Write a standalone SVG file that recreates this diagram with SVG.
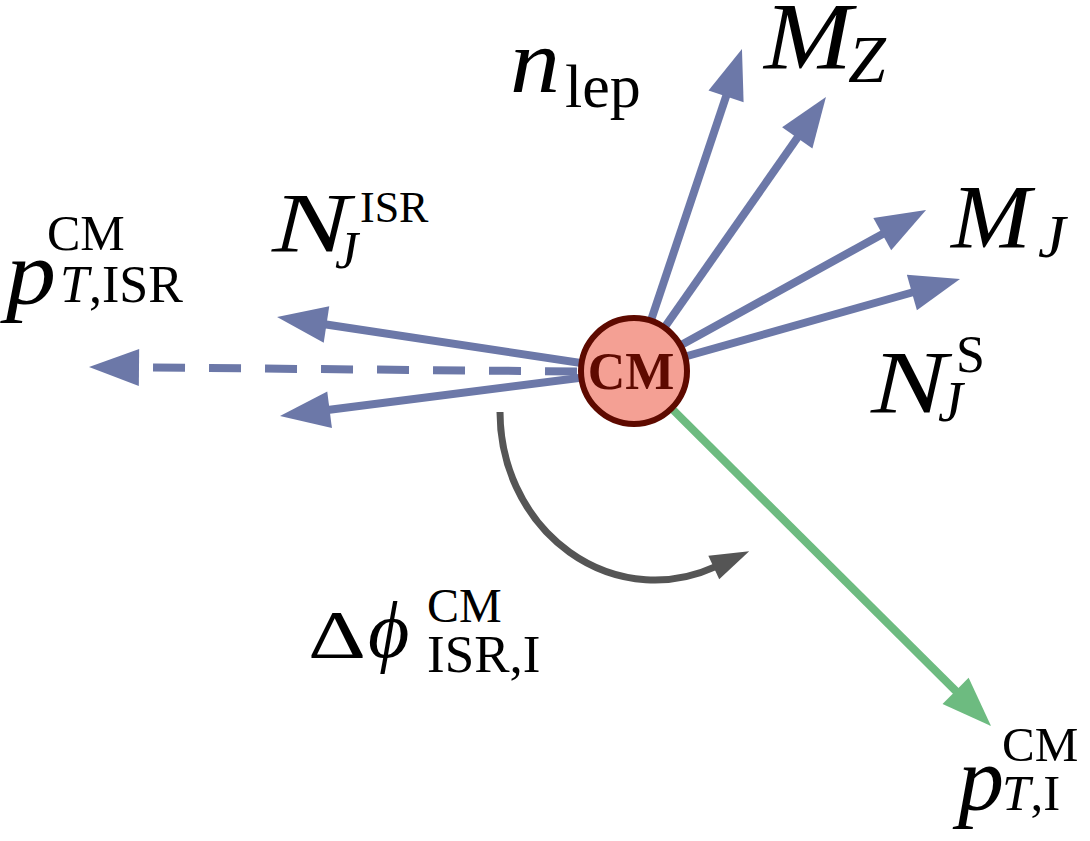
<svg xmlns="http://www.w3.org/2000/svg" width="1090" height="841" viewBox="0 0 1090 841">
<style>
.mi{font-family:"Liberation Serif","DejaVu Serif",serif;font-style:italic;fill:#000}
.rm{font-family:"Liberation Serif","DejaVu Serif",serif;font-style:normal;fill:#000}
.blue{stroke:#6c78a8;stroke-width:8;fill:none;marker-end:url(#hb)}
.green{stroke:#6dbb80;stroke-width:8;fill:none;marker-end:url(#hg)}
.gray{stroke:#555555;stroke-width:7;fill:none;marker-end:url(#hk)}
</style>
<defs>
<marker id="hb" markerUnits="userSpaceOnUse" markerWidth="50" markerHeight="37" refX="2" refY="18.5" orient="auto" overflow="visible"><path d="M0,0 L50,18.5 L0,37 z" fill="#6c78a8"/></marker>
<marker id="hg" markerUnits="userSpaceOnUse" markerWidth="50" markerHeight="37" refX="2" refY="18.5" orient="auto" overflow="visible"><path d="M0,0 L50,18.5 L0,37 z" fill="#6dbb80"/></marker>
<marker id="hk" markerUnits="userSpaceOnUse" markerWidth="39" markerHeight="26" refX="2" refY="13" orient="auto" overflow="visible"><path d="M0,0 L39,13 L0,26 z" fill="#555555"/></marker>
</defs>
<rect width="1090" height="841" fill="#ffffff"/>
<g id="connectors">
<path class="blue" d="M634 371 L726.7 94.5"/>
<path class="blue" d="M634 371 L798.4 136.3"/>
<path class="blue" d="M634 371 L884 233.2"/>
<path class="blue" d="M634 371 L913.8 292"/>
<path class="blue" d="M634 371 L324.5 324.2"/>
<path class="blue" d="M634 372 L137 367.4" stroke-dasharray="32 24" stroke-dashoffset="55"/>
<path class="blue" d="M634 371 L327.6 410"/>
<path class="green" d="M634 371 L957 692.2"/>
<path class="gray" d="M500 412 A155 168 0 0 0 715.6 566.6"/>
</g>
<g id="node-cm">
<circle cx="634" cy="371" r="53" fill="#f4a094" stroke="#5e0a00" stroke-width="6"/>
<text x="631" y="389" text-anchor="middle" font-family="Liberation Serif, serif" font-weight="bold" font-size="52" fill="#5e0a00">CM</text>
</g>
<g id="label-nlep">
<text class="mi" x="510" y="92" font-size="92" textLength="50" lengthAdjust="spacingAndGlyphs">n</text>
<text class="rm" x="565" y="107" font-size="62">lep</text>
</g>
<g id="label-MZ">
<text class="mi" x="764" y="69" font-size="96" textLength="88" lengthAdjust="spacingAndGlyphs">M</text>
<text class="mi" x="848" y="82" font-size="68">Z</text>
</g>
<g id="label-MJ">
<text class="mi" x="951" y="248" font-size="90" textLength="80" lengthAdjust="spacingAndGlyphs">M</text>
<text class="mi" x="1038" y="257" font-size="62">J</text>
</g>
<g id="label-NJS">
<text class="mi" x="871" y="412" font-size="88" textLength="76" lengthAdjust="spacingAndGlyphs">N</text>
<text class="rm" x="956" y="372" font-size="52">S</text>
<text class="mi" x="938" y="421" font-size="56">J</text>
</g>
<g id="label-NJISR">
<text class="mi" x="272" y="252" font-size="84" textLength="78" lengthAdjust="spacingAndGlyphs">N</text>
<text class="rm" x="360" y="222" font-size="44">ISR</text>
<text class="mi" x="335" y="268" font-size="52">J</text>
</g>
<g id="label-pTISR">
<text class="mi" x="6" y="304" font-size="90" textLength="50" lengthAdjust="spacingAndGlyphs">p</text>
<text class="rm" x="47" y="250" font-size="50">CM</text>
<text class="rm" x="60" y="302" font-size="52"><tspan class="mi">T</tspan>,ISR</text>
</g>
<g id="label-dphi">
<text class="rm" x="308" y="657" font-size="68" textLength="58" lengthAdjust="spacingAndGlyphs">Δ</text>
<text class="mi" x="368" y="657" font-size="80">ϕ</text>
<text class="rm" x="427" y="622" font-size="48">CM</text>
<text class="rm" x="427" y="672" font-size="53">ISR,I</text>
</g>
<g id="label-pTI">
<text class="mi" x="958" y="810" font-size="92">p</text>
<text class="rm" x="1002" y="761" font-size="49">CM</text>
<text class="rm" x="1002" y="810" font-size="51"><tspan class="mi">T</tspan>,I</text>
</g>
</svg>
